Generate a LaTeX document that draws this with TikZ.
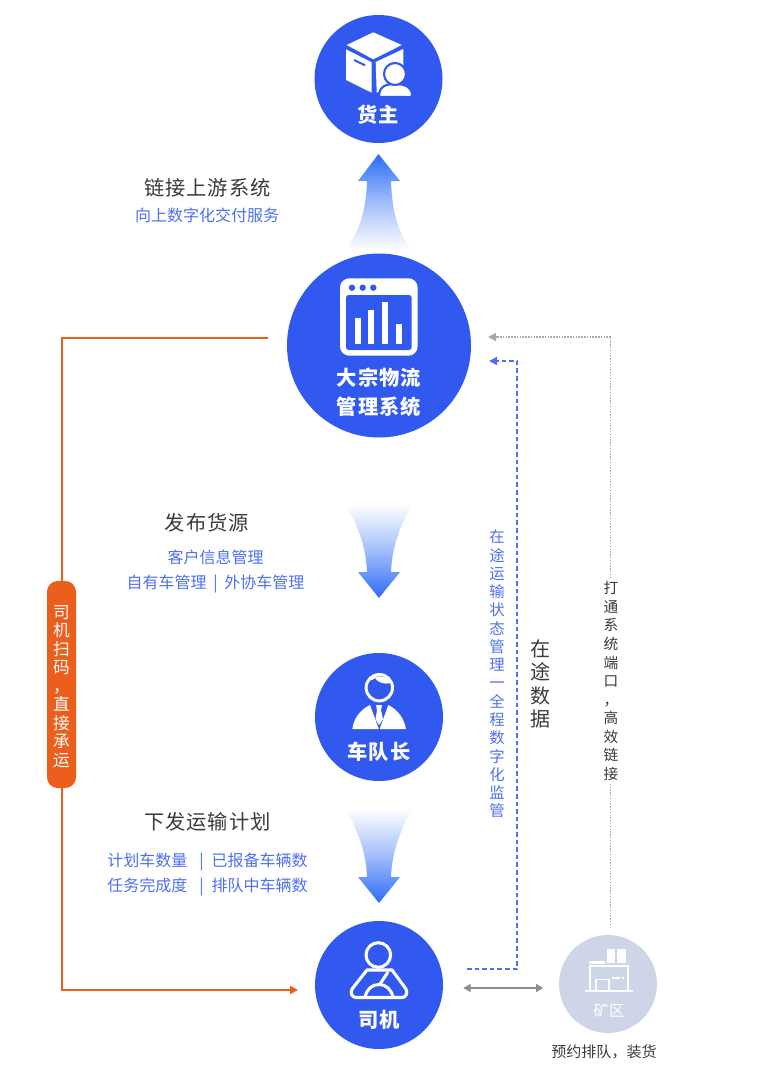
\documentclass[tikz,border=0pt]{standalone}
\usepackage{fontspec}
\setmainfont{Noto Sans CJK SC}
\newfontfamily\spacedfont[LetterSpace=5]{Noto Sans CJK SC}
\usetikzlibrary{arrows.meta}
\definecolor{discblue}{HTML}{3159F0}
\definecolor{arrowblue}{HTML}{2D6CF6}
\definecolor{labelblue}{HTML}{4E6FF0}
\definecolor{lineorange}{HTML}{EC5E1C}
\definecolor{minegrey}{HTML}{CFD5E8}
\definecolor{labeldark}{HTML}{3A3A3A}
\definecolor{linegrey}{HTML}{8E8E8E}
\newcommand{\barsep}[2]{\hspace{#1}|\hspace{#2}}
\tikzset{
    bigdisc/.style={circle, fill=discblue, inner sep=0pt, minimum size=96pt},
    maindisc/.style={circle, fill=discblue, inner sep=0pt, minimum size=138pt},
    minedisc/.style={circle, fill=minegrey, inner sep=0pt, minimum size=73.5pt},
    disclabel/.style={text=white, font=\spacedfont\fontsize{15.2}{21.75}\selectfont\bfseries, align=center},
    titlelabel/.style={text=labeldark, font=\spacedfont\fontsize{15.2}{18}\selectfont},
    bluelabel/.style={text=labelblue, font=\fontsize{12}{18.75}\selectfont, align=center},
    darksmall/.style={text=labeldark, font=\fontsize{11.3}{14}\selectfont},
    columnblue/.style={text=labelblue, font=\fontsize{11.5}{13.7}\selectfont, align=center},
    columndark/.style={text=labeldark, font=\fontsize{11}{13.9}\selectfont, align=center, fill=white, inner xsep=1pt, inner ysep=3pt},
    columnbig/.style={text=labeldark, font=\fontsize{15}{17.6}\selectfont, align=center},
    pillbox/.style={fill=lineorange, rounded corners=8pt, minimum width=21.75pt, minimum height=155.25pt, inner sep=0pt},
    pilllabel/.style={text=white, font=\fontsize{12.5}{13.875}\selectfont, align=center},
    orangeline/.style={draw=lineorange, line width=1.5pt, -{Triangle[length=6pt, width=6pt]}},
    blueline/.style={draw=labelblue, line width=1.1pt, dash pattern=on 3.5pt off 2.2pt, -{Triangle[length=6pt, width=6pt]}},
    greyline/.style={draw=linegrey!75, line width=1pt, dash pattern=on 1.1pt off 1pt, -{Triangle[length=6pt, width=6pt]}},
    bothways/.style={draw=linegrey, line width=1.1pt, {Triangle[length=5.5pt, width=6pt]}-{Triangle[length=5.5pt, width=6pt]}},
    iconline/.style={draw=white, line width=2.3pt, line join=round},
}
\begin{document}
\begin{tikzpicture}[x=0.75pt, y=-0.75pt]
    \useasboundingbox (0,0) rectangle (757,1078);

    \node (shipper) at (378.5,79) [bigdisc] {};
    \node (system) at (379,345.5) [maindisc] {};
    \node (captain) at (379,717) [bigdisc] {};
    \node (driver) at (379,985) [bigdisc] {};
    \node (mine) at (608,984) [minedisc] {};

    \coordinate (orangestart) at (268,338);
    \coordinate (orangetop) at (62,338);
    \coordinate (orangebottom) at (62,990);
    \coordinate (orangeend) at (298,990);
    \coordinate (bluestart) at (467,969);
    \coordinate (bluelow) at (517,969);
    \coordinate (bluehigh) at (517,361);
    \coordinate (blueend) at (489,361);
    \coordinate (greystart) at (610.5,928);
    \coordinate (greyhigh) at (610.5,337);
    \coordinate (greyend) at (488,337);

    \draw[orangeline] (orangestart) -- (orangetop) -- (orangebottom) -- (orangeend);
    \draw[blueline] (bluestart) -- (bluelow) -- (bluehigh) -- (blueend);
    \draw[greyline] (greystart) -- (greyhigh) -- (greyend);
    \draw[bothways] ([yshift=-2.25pt,xshift=15pt]driver.east) -- ([yshift=-3pt,xshift=-11.5pt]mine.west);

    \shade[top color=arrowblue, bottom color=white, middle color=arrowblue!45!white] (378.5,154) -- (400,181) -- (391,181) .. controls (392,215) and (400,235) .. (411,250) -- (345,250) .. controls (357,235) and (366,215) .. (367,181) -- (358,181) -- cycle;
    \shade[top color=white, bottom color=arrowblue, middle color=arrowblue!45!white] (346,504) -- (412,504) .. controls (401,525) and (392,545) .. (391,572) -- (400,572) -- (379,598) -- (358,572) -- (367,572) .. controls (366,545) and (357,525) .. (346,504) -- cycle;
    \shade[top color=white, bottom color=arrowblue, middle color=arrowblue!45!white] (346,809) -- (412,809) .. controls (401,830) and (392,850) .. (391,877) -- (400,877) -- (379,903) -- (358,877) -- (367,877) .. controls (366,850) and (357,830) .. (346,809) -- cycle;

    \fill[white] (373.3,32.3) -- (401.7,45) -- (373.3,59.3) -- (346.7,45) -- cycle;
    \fill[white] (346,49.3) -- (371.7,62.3) -- (371.7,92.7) -- (346,80) -- cycle;
    \draw[discblue, line width=1.5pt] (354,60) -- (365,65.3);
    \fill[white] (375.7,62) -- (403.3,49) -- (403.3,80) -- (376.7,92.7) -- cycle;
    \draw[fill=white, draw=discblue, line width=1.6pt] (379,97) .. controls (379,86) and (386,84) .. (395,84) .. controls (405,84) and (412,87) .. (412,95) .. controls (412,98) and (409,97) .. (405,97) -- cycle;
    \draw[fill=white, draw=discblue, line width=1.6pt] (395,74) circle (11);

    \fill[white, rounded corners=7pt] (340,278.3) rectangle (417.7,355.7);
    \fill[discblue, rounded corners=2pt] (346,295) rectangle (411.7,350);
    \foreach \dotx in {352,362.7,373.3}
        \fill[discblue] (\dotx,287.7) circle (3.2);
    \fill[white] (354.7,318.3) rectangle (360.7,344);
    \fill[white] (367.7,310) rectangle (374,344);
    \fill[white] (382,301.7) rectangle (388.3,344);
    \fill[white] (395.7,324) rectangle (402,344);

    \draw[white, line width=2.2pt] (379.3,687.7) circle (13.2);
    \fill[white] (369,680) .. controls (373,675) and (385,674) .. (391,683) .. controls (384,685) and (377,682) .. (375,678) .. controls (373,680) and (371,681) .. (369,680) -- cycle;
    \fill[white] (352.3,729) .. controls (354,718) and (360,710) .. (370,705) -- (378.5,728) -- (378.5,729) -- cycle;
    \fill[white] (406,729) .. controls (404,718) and (398,710) .. (388.3,705) -- (380,728) -- (380,729) -- cycle;
    \fill[white] (376,705) -- (382,705) -- (381,710) -- (383,719) -- (379,725) -- (375.5,719) -- (377,710) -- cycle;

    \draw[iconline] (378.3,955) circle (12.3);
    \draw[iconline] (367,970) -- (392,970) -- (406,989) .. controls (408,993) and (406,997.5) .. (402,997.5) -- (356,997.5) .. controls (352,997.5) and (350,993) .. (352,989) -- cycle;
    \draw[iconline] (388,972) -- (380,984);
    \draw[iconline] (365,997) .. controls (367,989) and (372,984.5) .. (379,984.5) .. controls (386,984.5) and (391,989) .. (393,997);

    \fill[white] (606.7,949.3) rectangle (615,963);
    \fill[white] (617.3,949.3) rectangle (625.7,963);
    \fill[white] (589.3,961) rectangle (605,963.5);
    \draw[white, line width=1.4pt] (590,990) -- (590,966) -- (628,966) -- (628,990);
    \draw[white, line width=1.8pt] (585,991) -- (632.7,991);
    \draw[white, line width=1.4pt] (596,990) -- (596,979.5) -- (609,979.5) -- (609,990);
    \draw[white, line width=1.2pt] (612,978) -- (620,978) (622,978) -- (624,978);

    \node (shipperlabel) at (378.5,115) [disclabel] {货主};
    \node (systemlabel) at (379,392.5) [disclabel] {大宗物流\\管理系统};
    \node (captainlabel) at (379,752) [disclabel] {车队长};
    \node (driverlabel) at (379,1020) [disclabel] {司机};
    \node (minelabel) at (609,1011) [text=white, font=\fontsize{11.5}{14}\selectfont] {矿区};
    \node (minenote) at (604,1052) [darksmall] {预约排队，装货};

    \node (uptitle) at (207.5,188) [titlelabel] {链接上游系统};
    \node (upnote) at (207,215) [bluelabel] {向上数字化交付服务};
    \node (sourcetitle) at (207,523) [titlelabel] {发布货源};
    \node (sourcenote) at (215.5,571.5) [bluelabel] {客户信息管理\\自有车管理\barsep{5pt}{5pt}外协车管理};
    \node (plantitle) at (207.5,822) [titlelabel] {下发运输计划};
    \node (plannote) at (207.5,874.5) [bluelabel] {计划车数量\barsep{9pt}{6pt}已报备车辆数\\任务完成度\barsep{9pt}{6pt}排队中车辆数};

    \node (pill) at (61.5,684.5) [pillbox] {};
    \node (pilltext) at (61.5,686.5) [pilllabel] {司\\机\\扫\\码\\，\\直\\接\\承\\运};
    \node (statuscolumn) at (497,674) [columnblue] {在\\途\\运\\输\\状\\态\\管\\理\\一\\全\\程\\数\\字\\化\\监\\管};
    \node (datacolumn) at (540,684) [columnbig] {在\\途\\数\\据};
    \node (portcolumn) at (611,681) [columndark] {打\\通\\系\\统\\端\\口\\，\\高\\效\\链\\接};
\end{tikzpicture}
\end{document}
